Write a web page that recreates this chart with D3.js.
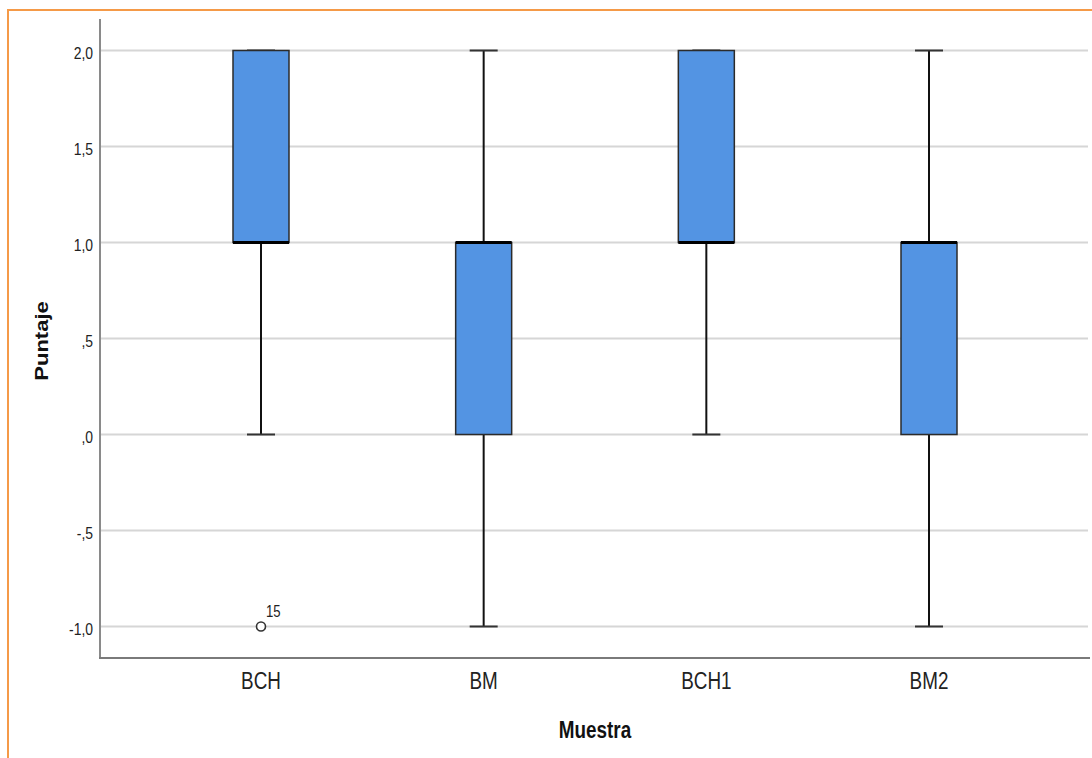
<!DOCTYPE html>
<html>
<head>
<meta charset="utf-8">
<script src="https://cdn.jsdelivr.net/npm/d3@7/dist/d3.min.js"></script>
<style>
  html, body { margin: 0; padding: 0; background: #fff; }
  svg { display: block; }
  text { font-family: "Liberation Sans", Arial, sans-serif; fill: #222; }
</style>
</head>
<body>
<svg id="chart" width="1092" height="758"></svg>
<script>
// Box plot summary per sample
const categories = ["BCH", "BM", "BCH1", "BM2"];
const whiskerLow  = [0, -1, 0, -1];
const quartile1   = [1, 0, 1, 0];
const medians     = [1, 1, 1, 1];
const quartile3   = [2, 1, 2, 1];
const whiskerHigh = [2, 2, 2, 2];
// Outliers: [category, value, case label]
const outliers = [["BCH", -1, "15"]];
const yTicks = [2, 1.5, 1, 0.5, 0, -0.5, -1];

const svg = d3.select("#chart");
const squish = 0.82; // narrow glyph rendering

const plotLeft = 100, plotRight = 1090, plotTop = 19, plotBottom = 658;

const x = d3.scalePoint().domain(categories).range([261, 929]);
const y = d3.scaleLinear().domain([-1, 2]).range([626.5, 50.5]);

// Frame border
svg.append("path")
  .attr("d", "M8,758 L8,10 L1092,10")
  .attr("fill", "none").attr("stroke", "#f59a48").attr("stroke-width", 2);

// Gridlines
svg.append("g").selectAll("line").data(yTicks).join("line")
  .attr("x1", plotLeft).attr("x2", 1088)
  .attr("y1", d => y(d)).attr("y2", d => y(d))
  .attr("stroke", "#d6d6d6").attr("stroke-width", 2);

// Axes lines
svg.append("line").attr("x1", plotLeft).attr("x2", plotLeft)
  .attr("y1", plotTop).attr("y2", plotBottom + 1)
  .attr("stroke", "#8a8a8a").attr("stroke-width", 2);
svg.append("line").attr("x1", plotLeft - 1).attr("x2", plotRight)
  .attr("y1", plotBottom).attr("y2", plotBottom)
  .attr("stroke", "#7a7a7a").attr("stroke-width", 2);

// Y tick labels in decimal-comma style: 2,0  1,5  ,5  ,0  -,5  -1,0
const fmt = v => {
  const s = Math.abs(v).toFixed(1).replace(/^0\./, ".").replace(".", ",");
  return (v < 0 ? "-" : "") + s;
};
svg.append("g").selectAll("text").data(yTicks).join("text")
  .attr("transform", d => `translate(93,${y(d) + 8}) scale(${squish},1)`)
  .attr("text-anchor", "end")
  .style("font-size", "17px")
  .text(d => fmt(d));

// Category labels
svg.append("g").selectAll("text").data(categories).join("text")
  .attr("transform", d => `translate(${x(d)},689) scale(${squish},1)`)
  .attr("text-anchor", "middle")
  .style("font-size", "23px")
  .text(d => d);

// Axis titles
svg.append("text")
  .attr("transform", `translate(595,738) scale(${squish},1)`)
  .attr("text-anchor", "middle")
  .style("font-size", "23px").style("font-weight", "bold").style("fill", "#111")
  .text("Muestra");
svg.append("text")
  .attr("transform", `translate(48,341) scale(${squish},1) rotate(-90)`)
  .attr("text-anchor", "middle")
  .style("font-size", "22px").style("font-weight", "bold").style("fill", "#111")
  .text("Puntaje");

// Boxes
const boxW = 56, capW = 28;
const boxes = categories.map((c, i) => ({
  c, lo: whiskerLow[i], q1: quartile1[i], med: medians[i], q3: quartile3[i], hi: whiskerHigh[i]
}));
const g = svg.append("g");
boxes.forEach(b => {
  const cx = x(b.c);
  // whiskers
  g.append("line").attr("x1", cx).attr("x2", cx).attr("y1", y(b.q3)).attr("y2", y(b.hi))
    .attr("stroke", "#111").attr("stroke-width", 2);
  g.append("line").attr("x1", cx).attr("x2", cx).attr("y1", y(b.q1)).attr("y2", y(b.lo))
    .attr("stroke", "#111").attr("stroke-width", 2);
  // caps
  [b.lo, b.hi].forEach(v => {
    g.append("line").attr("x1", cx - capW / 2).attr("x2", cx + capW / 2)
      .attr("y1", y(v)).attr("y2", y(v))
      .attr("stroke", "#333").attr("stroke-width", 2);
  });
  // box
  g.append("rect")
    .attr("x", cx - boxW / 2).attr("width", boxW)
    .attr("y", y(b.q3)).attr("height", Math.max(0, y(b.q1) - y(b.q3)))
    .attr("fill", "#5394e3").attr("stroke", "#2b2b2b").attr("stroke-width", 1.5);
  // median
  g.append("line").attr("x1", cx - boxW / 2).attr("x2", cx + boxW / 2)
    .attr("y1", y(b.med)).attr("y2", y(b.med))
    .attr("stroke", "#000").attr("stroke-width", 3);
});

// Outliers
outliers.forEach(([c, v, label]) => {
  svg.append("circle").attr("cx", x(c)).attr("cy", y(v)).attr("r", 4.5)
    .attr("fill", "#fff").attr("stroke", "#333").attr("stroke-width", 1.6);
  svg.append("text")
    .attr("transform", `translate(${x(c) + 5},${y(v) - 10}) scale(${squish},1)`)
    .style("font-size", "16px")
    .text(label);
});
</script>
</body>
</html>
